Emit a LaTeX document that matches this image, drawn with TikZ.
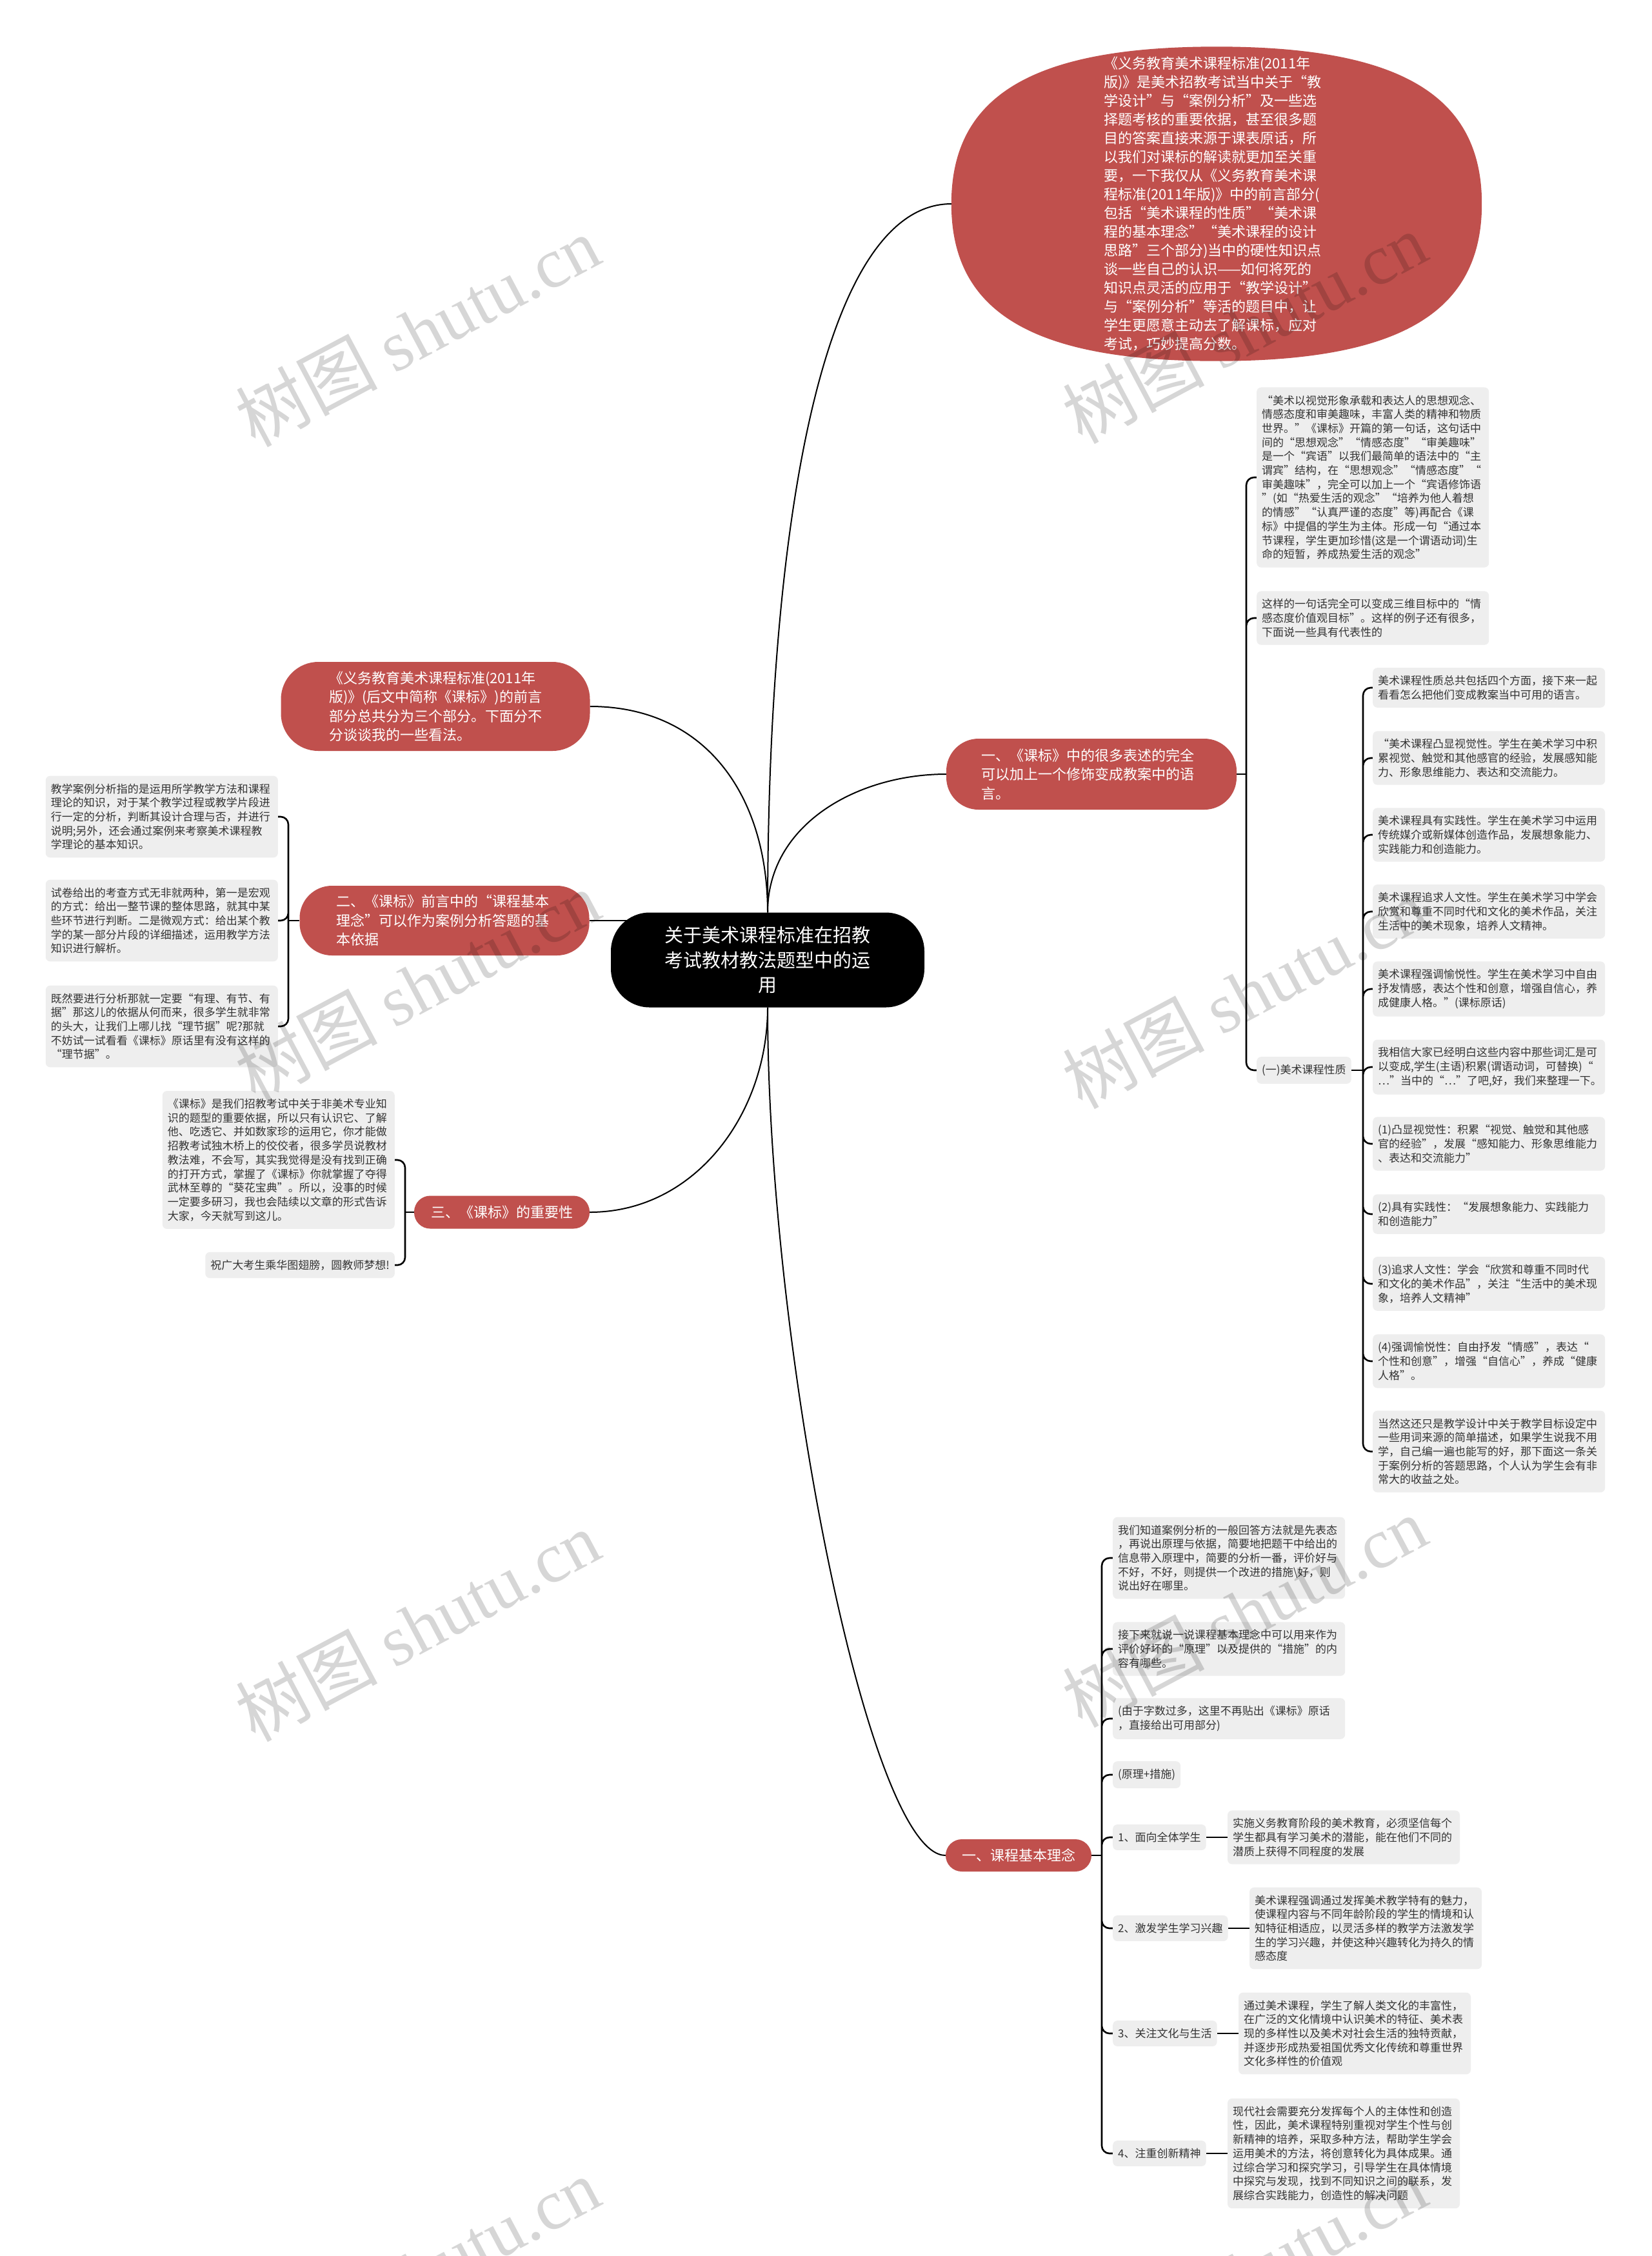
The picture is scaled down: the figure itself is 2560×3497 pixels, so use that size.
\documentclass[tikz,border=0pt]{standalone}
\usepackage{fontspec}
\setmainfont{Noto Sans CJK SC}
\newfontfamily\wmlatin{Liberation Serif}
\usetikzlibrary{positioning, backgrounds}
\definecolor{mapred}{HTML}{C0504D}
\definecolor{leafgray}{HTML}{EEEEEE}
\definecolor{leaftext}{HTML}{333333}

\begin{document}
\begin{tikzpicture}[x=1pt, y=-1pt,
    hub/.style={fill=black, text=white, rounded corners=60pt, inner sep=0pt,
                minimum width=486pt, minimum height=147pt, text width=330pt,
                align=center, font=\fontsize{29}{38.6}\selectfont},
    topic/.style={fill=mapred, text=white, inner sep=0pt,
                  font=\fontsize{22}{29.5}\selectfont},
    leaf/.style={fill=leafgray, text=leaftext, rounded corners=7pt,
                 inner xsep=8pt, inner ysep=12pt, align=left,
                 font=\fontsize{17}{21.7}\selectfont},
    para/.style={leaf, text width=344pt},
    link/.style={line width=2pt},
    twig/.style={line width=2.6pt, rounded corners=12pt},
    wmark/.style={rotate=28, text=black, text opacity=0.16,
                  font=\fontsize{110}{110}\selectfont}
]
\useasboundingbox (0,0) rectangle (2560,3497);

% Centre
\node[hub] (title) at (1190,1488)
  {关于美术课程标准在招教\\考试教材教法题型中的运\\用};

% Intro blob (shape drawn on background)
\node[text=white, inner sep=0pt, minimum width=822pt, minimum height=487pt,
      text width=350pt, align=left, font=\fontsize{22}{29}\selectfont] (intro) at (1886,316)
  {《义务教育美术课程标准(2011年\\
   版)》是美术招教考试当中关于“教\\
   学设计”与“案例分析”及一些选\\
   择题考核的重要依据，甚至很多题\\
   目的答案直接来源于课表原话，所\\
   以我们对课标的解读就更加至关重\\
   要，一下我仅从《义务教育美术课\\
   程标准(2011年版)》中的前言部分(\\
   包括“美术课程的性质”“美术课\\
   程的基本理念”“美术课程的设计\\
   思路”三个部分)当中的硬性知识点\\
   谈一些自己的认识——如何将死的\\
   知识点灵活的应用于“教学设计”\\
   与“案例分析”等活的题目中，让\\
   学生更愿意主动去了解课标，应对\\
   考试，巧妙提高分数。};

% Main topics
\node[topic, rounded corners=58pt, minimum width=479pt, minimum height=138pt,
      text width=330pt, align=left] (pre) at (675,1095)
  {《义务教育美术课程标准(2011年\\
   版)》(后文中简称《课标》)的前言\\
   部分总共分为三个部分。下面分不\\
   分谈谈我的一些看法。};
\node[topic, rounded corners=50pt, minimum width=449pt, minimum height=108pt,
      text width=336pt, align=left] (basis) at (689,1427)
  {二、《课标》前言中的“课程基本\\
   理念”可以作为案例分析答题的基\\
   本依据};
\node[topic, rounded corners=25pt, minimum width=272pt, minimum height=51pt] (value) at (778,1879)
  {三、《课标》的重要性};
\node[topic, rounded corners=50pt, minimum width=450pt, minimum height=110pt,
      text width=342pt, align=left] (expr) at (1692,1200)
  {一、《课标》中的很多表述的完全\\
   可以加上一个修饰变成教案中的语\\
   言。};
\node[topic, rounded corners=25pt, minimum width=226pt, minimum height=50pt] (idea) at (1579,2876)
  {一、课程基本理念};

% Expression branch
\node[para, anchor=west] (sent) at (1948,740)
  {“美术以视觉形象承载和表达人的思想观念、\\
   情感态度和审美趣味，丰富人类的精神和物质\\
   世界。”《课标》开篇的第一句话，这句话中\\
   间的“思想观念”“情感态度”“审美趣味”\\
   是一个“宾语”以我们最简单的语法中的“主\\
   谓宾”结构，在“思想观念”“情感态度”“\\
   审美趣味”，完全可以加上一个“宾语修饰语\\
   ”(如“热爱生活的观念”“培养为他人着想\\
   的情感”“认真严谨的态度”等)再配合《课\\
   标》中提倡的学生为主体。形成一句“通过本\\
   节课程，学生更加珍惜(这是一个谓语动词)生\\
   命的短暂，养成热爱生活的观念”};
\node[para, anchor=west] (goal) at (1948,958)
  {这样的一句话完全可以变成三维目标中的“情\\
   感态度价值观目标”。这样的例子还有很多，\\
   下面说一些具有代表性的};
\node[leaf, anchor=west] (nature) at (1948,1659) {(一)美术课程性质};

\node[para, anchor=west] (nat1) at (2128,1066)
  {美术课程性质总共包括四个方面，接下来一起\\
   看看怎么把他们变成教案当中可用的语言。};
\node[para, anchor=west] (nat2) at (2128,1175)
  {“美术课程凸显视觉性。学生在美术学习中积\\
   累视觉、触觉和其他感官的经验，发展感知能\\
   力、形象思维能力、表达和交流能力。};
\node[para, anchor=west] (nat3) at (2128,1294)
  {美术课程具有实践性。学生在美术学习中运用\\
   传统媒介或新媒体创造作品，发展想象能力、\\
   实践能力和创造能力。};
\node[para, anchor=west] (nat4) at (2128,1413)
  {美术课程追求人文性。学生在美术学习中学会\\
   欣赏和尊重不同时代和文化的美术作品，关注\\
   生活中的美术现象，培养人文精神。};
\node[para, anchor=west] (nat5) at (2128,1533)
  {美术课程强调愉悦性。学生在美术学习中自由\\
   抒发情感，表达个性和创意，增强自信心，养\\
   成健康人格。”(课标原话)};
\node[para, anchor=west] (nat6) at (2128,1654)
  {我相信大家已经明白这些内容中那些词汇是可\\
   以变成,学生(主语)积累(谓语动词，可替换)“\\
   …”当中的“…”了吧,好，我们来整理一下。};
\node[para, anchor=west] (nat7) at (2128,1773)
  {(1)凸显视觉性：积累“视觉、触觉和其他感\\
   官的经验”，发展“感知能力、形象思维能力\\
   、表达和交流能力”};
\node[para, anchor=west] (nat8) at (2128,1882)
  {(2)具有实践性：“发展想象能力、实践能力\\
   和创造能力”};
\node[para, anchor=west] (nat9) at (2128,1990)
  {(3)追求人文性：学会“欣赏和尊重不同时代\\
   和文化的美术作品”，关注“生活中的美术现\\
   象，培养人文精神”};
\node[para, anchor=west] (nat10) at (2128,2110)
  {(4)强调愉悦性：自由抒发“情感”，表达“\\
   个性和创意”，增强“自信心”，养成“健康\\
   人格”。};
\node[para, anchor=west] (nat11) at (2128,2250)
  {当然这还只是教学设计中关于教学目标设定中\\
   一些用词来源的简单描述，如果学生说我不用\\
   学，自己编一遍也能写的好，那下面这一条关\\
   于案例分析的答题思路，个人认为学生会有非\\
   常大的收益之处。};

% Basis branch
\node[para, anchor=east] (bas1) at (431,1266)
  {教学案例分析指的是运用所学教学方法和课程\\
   理论的知识，对于某个教学过程或教学片段进\\
   行一定的分析，判断其设计合理与否，并进行\\
   说明;另外，还会通过案例来考察美术课程教\\
   学理论的基本知识。};
\node[para, anchor=east] (bas2) at (431,1427)
  {试卷给出的考查方式无非就两种，第一是宏观\\
   的方式：给出一整节课的整体思路，就其中某\\
   些环节进行判断。二是微观方式：给出某个教\\
   学的某一部分片段的详细描述，运用教学方法\\
   知识进行解析。};
\node[para, anchor=east] (bas3) at (431,1591)
  {既然要进行分析那就一定要“有理、有节、有\\
   据”那这儿的依据从何而来，很多学生就非常\\
   的头大，让我们上哪儿找“理节据”呢?那就\\
   不妨试一试看看《课标》原话里有没有这样的\\
   “理节据”。};

% Value branch
\node[para, anchor=east] (val1) at (612,1798)
  {《课标》是我们招教考试中关于非美术专业知\\
   识的题型的重要依据，所以只有认识它、了解\\
   他、吃透它、并如数家珍的运用它，你才能做\\
   招教考试独木桥上的佼佼者，很多学员说教材\\
   教法难，不会写，其实我觉得是没有找到正确\\
   的打开方式，掌握了《课标》你就掌握了夺得\\
   武林至尊的“葵花宝典”。所以，没事的时候\\
   一定要多研习，我也会陆续以文章的形式告诉\\
   大家，今天就写到这儿。};
\node[leaf, anchor=east] (val2) at (612,1961) {祝广大考生乘华图翅膀，圆教师梦想!};

% Idea branch
\node[para, anchor=west] (idea1) at (1725,2415)
  {我们知道案例分析的一般回答方法就是先表态\\
   ，再说出原理与依据，简要地把题干中给出的\\
   信息带入原理中，简要的分析一番，评价好与\\
   不好，不好，则提供一个改进的措施\textbackslash 好，则\\
   说出好在哪里。};
\node[para, anchor=west] (idea2) at (1725,2556)
  {接下来就说一说课程基本理念中可以用来作为\\
   评价好坏的“原理”以及提供的“措施”的内\\
   容有哪些。};
\node[para, anchor=west] (idea3) at (1725,2664)
  {(由于字数过多，这里不再贴出《课标》原话\\
   ，直接给出可用部分)};
\node[leaf, anchor=west] (idea4) at (1725,2751) {(原理+措施)};

\node[leaf, anchor=west] (pt1) at (1725,2848) {1、面向全体学生};
\node[leaf, anchor=west] (pt2) at (1725,2989) {2、激发学生学习兴趣};
\node[leaf, anchor=west] (pt3) at (1725,3152) {3、关注文化与生活};
\node[leaf, anchor=west] (pt4) at (1725,3338) {4、注重创新精神};

\node[para, right=33pt of pt1] (pd1)
  {实施义务教育阶段的美术教育，必须坚信每个\\
   学生都具有学习美术的潜能，能在他们不同的\\
   潜质上获得不同程度的发展};
\node[para, right=33pt of pt2] (pd2)
  {美术课程强调通过发挥美术教学特有的魅力，\\
   使课程内容与不同年龄阶段的学生的情境和认\\
   知特征相适应，以灵活多样的教学方法激发学\\
   生的学习兴趣，并使这种兴趣转化为持久的情\\
   感态度};
\node[para, right=33pt of pt3] (pd3)
  {通过美术课程，学生了解人类文化的丰富性，\\
   在广泛的文化情境中认识美术的特征、美术表\\
   现的多样性以及美术对社会生活的独特贡献，\\
   并逐步形成热爱祖国优秀文化传统和尊重世界\\
   文化多样性的价值观};
\node[para, right=33pt of pt4] (pd4)
  {现代社会需要充分发挥每个人的主体性和创造\\
   性，因此，美术课程特别重视对学生个性与创\\
   新精神的培养，采取多种方法，帮助学生学会\\
   运用美术的方法，将创意转化为具体成果。通\\
   过综合学习和探究学习，引导学生在具体情境\\
   中探究与发现，找到不同知识之间的联系，发\\
   展综合实践能力，创造性的解决问题};

% Junctions
\coordinate (jexpr) at (1932,1200);
\coordinate (jnat) at (2113,1659);
\coordinate (jbas) at (447,1427);
\coordinate (jval) at (628,1879);
\coordinate (jidea) at (1708,2876);

\begin{scope}[on background layer]
\fill[white] (0,0) rectangle (2560,3497);
\fill[mapred] (intro.west)
  .. controls ([yshift=168pt]intro.west) and ([xshift=-285pt]intro.north) .. (intro.north)
  .. controls ([xshift=285pt]intro.north) and ([yshift=168pt]intro.east) .. (intro.east)
  .. controls ([yshift=-168pt]intro.east) and ([xshift=285pt]intro.south) .. (intro.south)
  .. controls ([xshift=-285pt]intro.south) and ([yshift=-168pt]intro.west) .. (intro.west) -- cycle;

% Branches from the centre
\draw[link] (title.north) .. controls ([yshift=600pt]title.north) and ([xshift=-200pt]intro.west) .. (intro.west);
\draw[link] (title.north) .. controls ([yshift=180pt]title.north) and ([xshift=180pt]pre.east) .. (pre.east);
\draw[link] (title.north) .. controls ([yshift=137pt]title.north) and ([xshift=-137pt]expr.west) .. (expr.west);
\draw[link] (basis.east) -- (basis.east -| title.center);
\draw[link] (title.south) .. controls ([yshift=-164pt]title.south) and ([xshift=164pt]value.east) .. (value.east);
\draw[link] (title.south) .. controls ([yshift=-520pt]title.south) and ([xshift=-120pt]idea.west) .. (idea.west);

% Sub branches
\draw[twig] (expr.east) -- (jexpr);
\draw[twig] (jexpr) |- (sent.west) (jexpr) |- (goal.west) (jexpr) |- (nature.west);
\draw[twig] (nature.east) -- (jnat);
\draw[twig] (jnat) |- (nat1.west) (jnat) |- (nat2.west) (jnat) |- (nat3.west)
            (jnat) |- (nat4.west) (jnat) |- (nat5.west) (jnat) |- (nat6.west)
            (jnat) |- (nat7.west) (jnat) |- (nat8.west) (jnat) |- (nat9.west)
            (jnat) |- (nat10.west) (jnat) |- (nat11.west);
\draw[twig] (basis.west) -- (jbas);
\draw[twig] (jbas) |- (bas1.east) (jbas) |- (bas2.east) (jbas) |- (bas3.east);
\draw[twig] (value.west) -- (jval);
\draw[twig] (jval) |- (val1.east) (jval) |- (val2.east);
\draw[twig] (idea.east) -- (jidea);
\draw[twig] (jidea) |- (idea1.west) (jidea) |- (idea2.west) (jidea) |- (idea3.west)
            (jidea) |- (idea4.west) (jidea) |- (pt1.west) (jidea) |- (pt2.west)
            (jidea) |- (pt3.west) (jidea) |- (pt4.west);
\draw[twig] (pt1.east) -- (pd1.west);
\draw[twig] (pt2.east) -- (pd2.west);
\draw[twig] (pt3.east) -- (pd3.west);
\draw[twig] (pt4.east) -- (pd4.west);
\end{scope}

% Watermarks
\node[wmark] (wm1) at (647,513) {树图 {\wmlatin shutu.cn}};
\node[wmark] (wm2) at (1929,508) {树图 {\wmlatin shutu.cn}};
\node[wmark] (wm3) at (647,1528) {树图 {\wmlatin shutu.cn}};
\node[wmark] (wm4) at (1929,1539) {树图 {\wmlatin shutu.cn}};
\node[wmark] (wm5) at (647,2520) {树图 {\wmlatin shutu.cn}};
\node[wmark] (wm6) at (1929,2498) {树图 {\wmlatin shutu.cn}};
\node[wmark] (wm7) at (647,3523) {树图 {\wmlatin shutu.cn}};
\node[wmark] (wm8) at (1929,3523) {树图 {\wmlatin shutu.cn}};
\end{tikzpicture}
\end{document}
